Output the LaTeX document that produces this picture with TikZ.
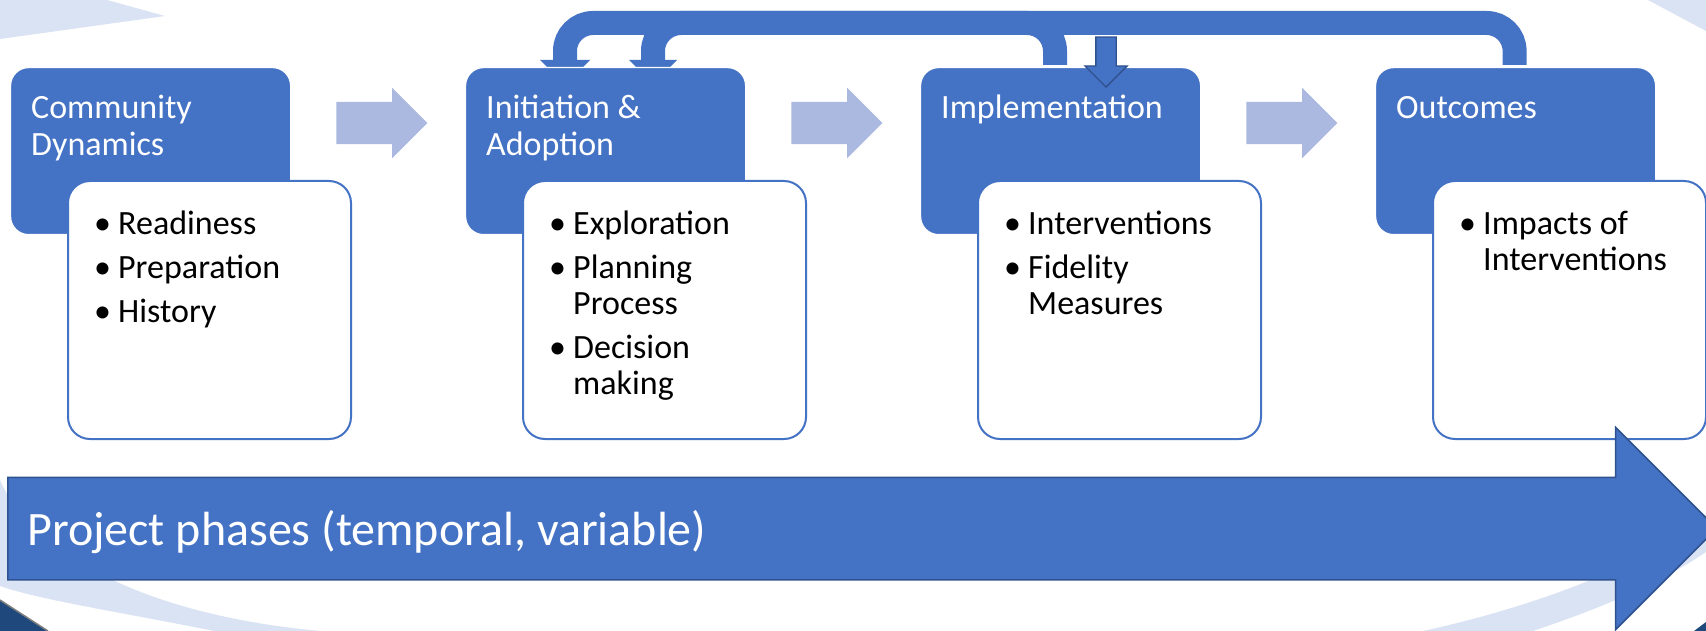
\documentclass[tikz,border=0pt]{standalone}
\usepackage{fontspec}
\setmainfont{Carlito}
\usetikzlibrary{shapes.arrows}
\definecolor{phblue}{RGB}{68,114,196}
\definecolor{phedge}{RGB}{47,82,143}
\definecolor{phlight}{RGB}{171,185,224}
\definecolor{phring}{RGB}{218,227,243}
\definecolor{phnavy}{RGB}{31,73,125}
\pgfdeclarelayer{ring}
\pgfdeclarelayer{back}
\pgfsetlayers{ring,back,main}
\newcommand\bul{\makebox[24pt][l]{\textbullet}}
\newcommand\ind{\hspace*{24pt}}
\begin{document}
\begin{tikzpicture}[x=1pt,y=-1pt,
    head/.style={fill=phblue,draw=white,line width=1.2pt,rounded corners=18pt,
      minimum width=280pt,minimum height=167pt,inner sep=0pt,anchor=north west},
    body/.style={fill=white,draw=phblue,line width=2pt,rounded corners=22pt,
      minimum width=283pt,minimum height=258pt,inner sep=0pt,anchor=north west},
    htext/.style={text=white,align=left,inner sep=0pt,anchor=north west,
      font=\fontsize{34}{37}\selectfont},
    btext/.style={text=black,align=left,inner sep=0pt,anchor=north west,
      font=\fontsize{34}{36}\selectfont},
    larrow/.style={single arrow,fill=phlight,inner xsep=0pt,inner ysep=21pt,
      minimum height=91pt,single arrow head extend=14pt,single arrow tip angle=90,anchor=tail},
    uband/.style={draw=phblue,line width=24pt,rounded corners=28pt}]
  \useasboundingbox (0,0) rectangle (1706,631);
  \begin{pgfonlayer}{ring}
    \fill[white] (0,0) rectangle (1706,631);
    \fill[phring] (0,0) -- (107,0) -- (165,16) -- (0,39) -- cycle;
    \fill[phring] (1648,0) -- (1706,0) -- (1706,31) -- cycle;
    \fill[phring] (0,480) .. controls (30,550) and (140,615) .. (321,631)
      -- (214,631) .. controls (120,612) and (40,600) .. (0,586) -- cycle;
    \fill[phring] (1423,631) .. controls (1520,610) and (1640,570) .. (1706,515)
      -- (1706,552) .. controls (1650,590) and (1580,615) .. (1533,631) -- cycle;
    \fill[phnavy] (0,600) -- (48,631) -- (0,631) -- cycle;
    \draw[gray,line width=1.5pt] (0,600) -- (48,631);
    \fill[phnavy] (1694,631) -- (1706,622) -- (1706,631) -- cycle;
  \end{pgfonlayer}
  \node[head] (t1) at (10,67) {};
  \node[head] (t2) at (465,67) {};
  \node[head] (t3) at (920,67) {};
  \node[head] (t4) at (1375,67) {};
  \node[body] (w1) at (67,180) {};
  \node[body] (w2) at (522,180) {};
  \node[body] (w3) at (977,180) {};
  \node[body,minimum width=273pt] (w4) at (1432,180) {};
  \node[larrow] (a1) at ([xshift=45pt,yshift=-56pt]t1.north east) {};
  \node[larrow] (a2) at ([xshift=45pt,yshift=-56pt]t2.north east) {};
  \node[larrow] (a3) at ([xshift=45pt,yshift=-56pt]t3.north east) {};
  \coordinate (f1) at ([xshift=100pt,yshift=7pt]t2.north west);
  \coordinate (f2) at ([xshift=188pt,yshift=7pt]t2.north west);
  \coordinate (g1) at ([xshift=-1pt,yshift=2pt]t4.north);
  \coordinate (g2) at ([xshift=135pt,yshift=2pt]t3.north west);
  \begin{pgfonlayer}{back}
    \draw[uband] (g1) -- ++(0,-42) -| (f1);
    \draw[uband] (g2) -- ++(0,-42) -| (f2);
    \fill[phblue] ([xshift=-25pt]f1) -- ([xshift=25pt]f1) -- ([yshift=-25pt]f1) -- cycle;
    \fill[phblue] ([xshift=-24pt]f2) -- ([xshift=24pt]f2) -- ([yshift=-24pt]f2) -- cycle;
  \end{pgfonlayer}
  \node[single arrow,fill=phblue,draw=phedge,line width=1.3pt,inner sep=9.5pt,
    minimum height=50pt,single arrow head extend=11pt,
    single arrow tip angle=90,shape border rotate=270,anchor=tip]
    (dn) at ([xshift=186pt,yshift=-21pt]t3.north west) {};
  \node[single arrow,fill=phblue,draw=phedge,line width=1.5pt,inner xsep=0pt,inner ysep=50.5pt,
    minimum height=1709pt,single arrow head extend=50pt,
    single arrow tip angle=90,anchor=tail] (ph) at (7,528.5) {};
  \node[htext] (h1) at ([xshift=21pt,yshift=-25pt]t1.north west) {\strut Community\\Dynamics};
  \node[htext] (h2) at ([xshift=21pt,yshift=-25pt]t2.north west) {\strut Initiation \&\\Adoption};
  \node[htext] (h3) at ([xshift=21pt,yshift=-25pt]t3.north west) {\strut Implementation};
  \node[htext] (h4) at ([xshift=21pt,yshift=-25pt]t4.north west) {\strut Outcomes};
  \node[btext] (b1) at ([xshift=27pt,yshift=-29pt]w1.north west)
    {\strut\bul Readiness\\[8pt]\bul Preparation\\[8pt]\bul History};
  \node[btext] (b2) at ([xshift=27pt,yshift=-29pt]w2.north west)
    {\strut\bul Exploration\\[8pt]\bul Planning\\\ind Process\\[8pt]\bul Decision\\\ind making};
  \node[btext] (b3) at ([xshift=27pt,yshift=-29pt]w3.north west)
    {\strut\bul Interventions\\[8pt]\bul Fidelity\\\ind Measures};
  \node[btext] (b4) at ([xshift=27pt,yshift=-29pt]w4.north west)
    {\strut\bul Impacts of\\\ind Interventions};
  \node[text=white,inner sep=0pt,anchor=base west,font=\fontsize{48}{56}\selectfont]
    (pt) at ([xshift=20pt,yshift=-16.5pt]ph.tail) {Project phases (temporal, variable)};
\end{tikzpicture}
\end{document}
